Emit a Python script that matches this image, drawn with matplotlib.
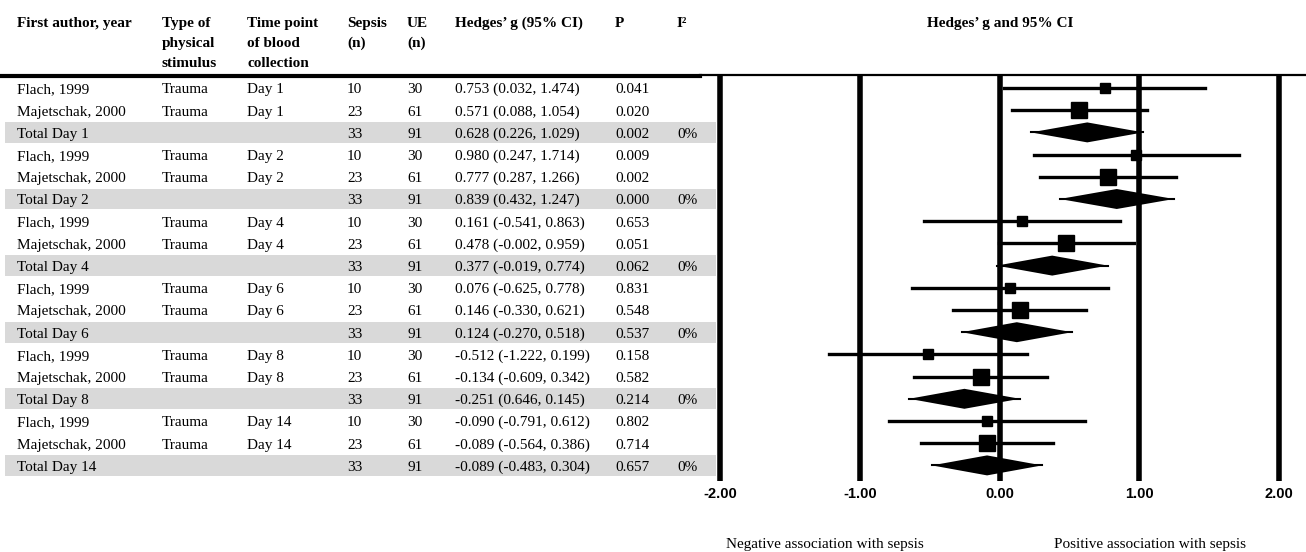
import matplotlib.pyplot as plt
from matplotlib.lines import Line2D
from matplotlib.patches import Polygon, Rectangle

plt.rcParams["font.family"] = ["Liberation Serif", "DejaVu Serif"]

# ---- data -------------------------------------------------------------
authors = ["Flach, 1999", "Majetschak, 2000", "Total Day 1",
           "Flach, 1999", "Majetschak, 2000", "Total Day 2",
           "Flach, 1999", "Majetschak, 2000", "Total Day 4",
           "Flach, 1999", "Majetschak, 2000", "Total Day 6",
           "Flach, 1999", "Majetschak, 2000", "Total Day 8",
           "Flach, 1999", "Majetschak, 2000", "Total Day 14"]
stimulus = ["Trauma", "Trauma", ""] * 6
timepoint = ["Day 1", "Day 1", "", "Day 2", "Day 2", "", "Day 4", "Day 4", "",
             "Day 6", "Day 6", "", "Day 8", "Day 8", "", "Day 14", "Day 14", ""]
sepsis_n = [10, 23, 33] * 6
ue_n = [30, 61, 91] * 6
g = [0.753, 0.571, 0.628, 0.980, 0.777, 0.839, 0.161, 0.478, 0.377,
     0.076, 0.146, 0.124, -0.512, -0.134, -0.251, -0.090, -0.089, -0.089]
lo = [0.032, 0.088, 0.226, 0.247, 0.287, 0.432, -0.541, -0.002, -0.019,
      -0.625, -0.330, -0.270, -1.222, -0.609, -0.646, -0.791, -0.564, -0.483]
hi = [1.474, 1.054, 1.029, 1.714, 1.266, 1.247, 0.863, 0.959, 0.774,
      0.778, 0.621, 0.518, 0.199, 0.342, 0.145, 0.612, 0.386, 0.304]
ci_labels = ["0.753 (0.032, 1.474)", "0.571 (0.088, 1.054)", "0.628 (0.226, 1.029)",
             "0.980 (0.247, 1.714)", "0.777 (0.287, 1.266)", "0.839 (0.432, 1.247)",
             "0.161 (-0.541, 0.863)", "0.478 (-0.002, 0.959)", "0.377 (-0.019, 0.774)",
             "0.076 (-0.625, 0.778)", "0.146 (-0.330, 0.621)", "0.124 (-0.270, 0.518)",
             "-0.512 (-1.222, 0.199)", "-0.134 (-0.609, 0.342)", "-0.251 (0.646, 0.145)",
             "-0.090 (-0.791, 0.612)", "-0.089 (-0.564, 0.386)", "-0.089 (-0.483, 0.304)"]
p_values = ["0.041", "0.020", "0.002", "0.009", "0.002", "0.000", "0.653", "0.051", "0.062",
            "0.831", "0.548", "0.537", "0.158", "0.582", "0.214", "0.802", "0.714", "0.657"]
i2 = ["", "", "0%"] * 6
is_total = [a.startswith("Total") for a in authors]

headers = [["First author, year"], ["Type of", "physical", "stimulus"],
           ["Time point", "of blood", "collection"], ["Sepsis", "(n)"],
           ["UE", "(n)"], ["Hedges\u2019 g (95% CI)"], ["P"], ["I\u00b2"]]
xticks = [-2, -1, 0, 1, 2]

# ---- layout (pixels) ----------------------------------------------------
W, H = 1306, 552
col_x = [17, 162, 247, 347, 407, 455, 615, 677]
top_px, bot_px = 75, 481
row0_px, pitch = 88, 22.2
n = len(authors)
ylim = ((bot_px - row0_px) / pitch, (top_px - row0_px) / pitch)


def fy(px):
    return 1 - px / H


fig = plt.figure(figsize=(W / 100, H / 100), dpi=100)

# table axes (x in pixels)
ax_t = fig.add_axes([0, fy(bot_px), 716 / W, (bot_px - top_px) / H])
ax_t.set_xlim(0, 716)
ax_t.set_ylim(*ylim)
ax_t.axis("off")

# forest axes (x in Hedges' g)
unit = (1279 - 720) / 4
ax_f = fig.add_axes([700 / W, fy(bot_px), 606 / W, (bot_px - top_px) / H])
ax_f.set_xlim(-2 - 20 / unit, 2 + 27 / unit)
ax_f.set_ylim(*ylim)
ax_f.patch.set_alpha(0)
for s in ax_f.spines.values():
    s.set_visible(False)
ax_f.set_yticks([])
ax_f.set_xticks(xticks)
ax_f.set_xticklabels([f"{t:.2f}" for t in xticks], family="Liberation Sans",
                     fontsize=10.5, fontweight="bold")
ax_f.tick_params(axis="x", length=0, pad=4)

# gray bands for pooled rows
for i in range(n):
    if is_total[i]:
        ax_t.add_patch(Rectangle((5, i - 0.47), 711, 0.94, color="#d9d9d9", lw=0, zorder=0))

# table text
for i in range(n):
    vals = [authors[i], stimulus[i], timepoint[i], str(sepsis_n[i]), str(ue_n[i]),
            ci_labels[i], p_values[i], i2[i]]
    for x, v in zip(col_x, vals):
        ax_t.text(x, i + 0.24, v, ha="left", va="baseline", fontsize=11)

# header
for x, lines in zip(col_x, headers):
    for k, line in enumerate(lines):
        fig.text(x / W, fy(27 + 20 * k), line, ha="left", va="baseline",
                 fontsize=11, fontweight="bold")
fig.text(1000 / W, fy(27), "Hedges\u2019 g and 95% CI", ha="center", va="baseline",
         fontsize=11, fontweight="bold")

# top rules
fig.add_artist(Line2D([0, 700 / W], [fy(76), fy(76)], color="black", lw=3,
                      transform=fig.transFigure))
fig.add_artist(Line2D([700 / W, 1], [fy(75), fy(75)], color="black", lw=1.6,
                      transform=fig.transFigure))

# vertical reference lines
for t in xticks:
    ax_f.axvline(t, color="black", lw=4, zorder=1)

# study estimates and pooled diamonds
for i in range(n):
    if is_total[i]:
        ax_f.plot([lo[i], hi[i]], [i, i], color="black", lw=1.5, zorder=3)
        ax_f.add_patch(Polygon([(lo[i], i), (g[i], i - 0.45), (hi[i], i), (g[i], i + 0.45)],
                               closed=True, color="black", lw=0, zorder=3))
    else:
        ax_f.plot([lo[i], hi[i]], [i, i], color="black", lw=2.4, zorder=3)
        ax_f.plot(g[i], i, marker="s", color="black", zorder=4,
                  markersize=5 + 0.28 * sepsis_n[i])

fig.text(825 / W, fy(548), "Negative association with sepsis", ha="center",
         va="baseline", fontsize=11)
fig.text(1150 / W, fy(548), "Positive association with sepsis", ha="center",
         va="baseline", fontsize=11)

fig.savefig("out.png", dpi=100)
